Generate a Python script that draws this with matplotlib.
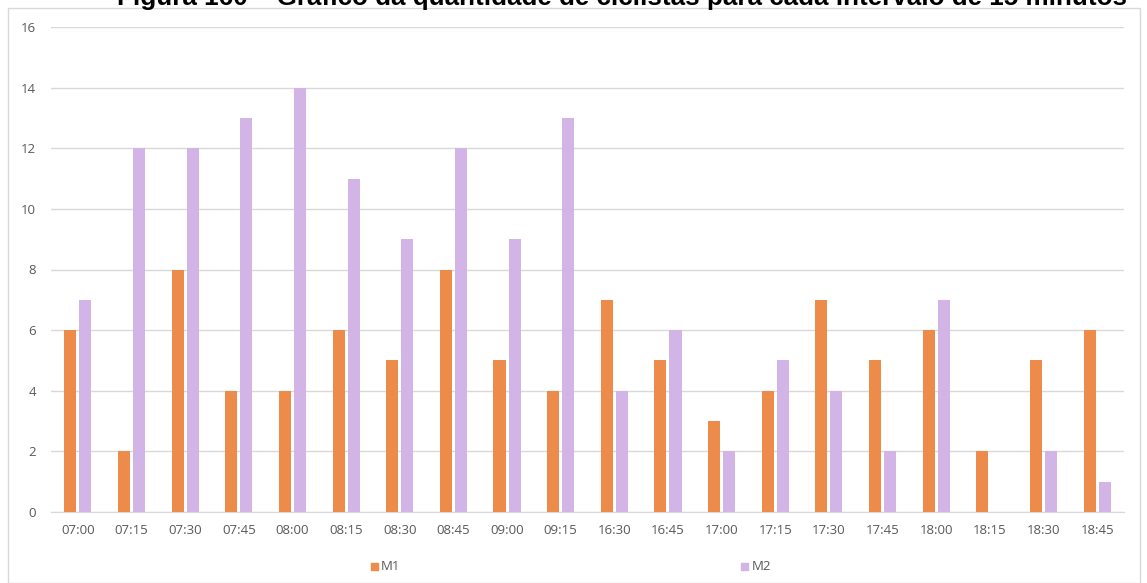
import matplotlib
matplotlib.use("Agg")
import matplotlib.pyplot as plt
import numpy as np
from matplotlib.patches import Rectangle

categories = ["07:00", "07:15", "07:30", "07:45", "08:00", "08:15", "08:30", "08:45", "09:00", "09:15",
              "16:30", "16:45", "17:00", "17:15", "17:30", "17:45", "18:00", "18:15", "18:30", "18:45"]
m1 = [6, 2, 8, 4, 4, 6, 5, 8, 5, 4, 7, 5, 3, 4, 7, 5, 6, 2, 5, 6]
m2 = [7, 12, 12, 13, 14, 11, 9, 12, 9, 13, 4, 6, 2, 5, 4, 2, 7, 0, 2, 1]
yticks = [0, 2, 4, 6, 8, 10, 12, 14, 16]
title = "Figura 160 – Gráfico da quantidade de ciclistas para cada intervalo de 15 minutos"

plt.rcParams['font.family'] = ['Open Sans', 'DejaVu Sans']
W, H = 1147, 583
fig = plt.figure(figsize=(W / 100, H / 100), dpi=100)

# outer border
fig.patches.append(Rectangle((8 / W, 0), (1140 - 8) / W, (H - 8) / H, transform=fig.transFigure,
                             fill=False, edgecolor="#d9d9d9", linewidth=1))

ax = fig.add_axes([51 / W, 1 - 512 / H, (1124 - 51) / W, (512 - 27) / H])
x = np.arange(len(categories))
bw = 0.225
gap = 0.056
c1 = "#ed8b4a"
c2 = "#d2b4e6"
ax.bar(x - (bw + gap) / 2, m1, width=bw, color=c1, zorder=3)
ax.bar(x + (bw + gap) / 2, m2, width=bw, color=c2, zorder=3)
ax.set_xlim(-0.5, len(categories) - 0.5)
ax.set_ylim(0, 16)
ax.set_yticks(yticks)
ax.yaxis.grid(True, color="#d9d9d9", linewidth=1, zorder=0)
ax.set_xticks(x)
ax.set_xticklabels(categories)
for s in ["top", "right", "left"]:
    ax.spines[s].set_visible(False)
ax.spines["bottom"].set_color("#d9d9d9")
ax.tick_params(axis="both", length=0, labelsize=9.5, colors="#595959")
ax.tick_params(axis="x", pad=9)
ax.tick_params(axis="y", pad=11)

fig.text(622 / W, 1 - 5 / H, title, ha="center", va="baseline", fontsize=18.7,
         fontweight="bold", family=["Liberation Sans", "DejaVu Sans"], color="black")

fig.patches.append(Rectangle((371 / W, 1 - 570 / H), 7 / W, 7 / H, transform=fig.transFigure, color=c1))
fig.text(381 / W, 1 - 566 / H, "M1", ha="left", va="center", fontsize=9.5, color="#595959")
fig.patches.append(Rectangle((741 / W, 1 - 570 / H), 7 / W, 7 / H, transform=fig.transFigure, color=c2))
fig.text(752 / W, 1 - 566 / H, "M2", ha="left", va="center", fontsize=9.5, color="#595959")

fig.savefig("out.png", dpi=100)
